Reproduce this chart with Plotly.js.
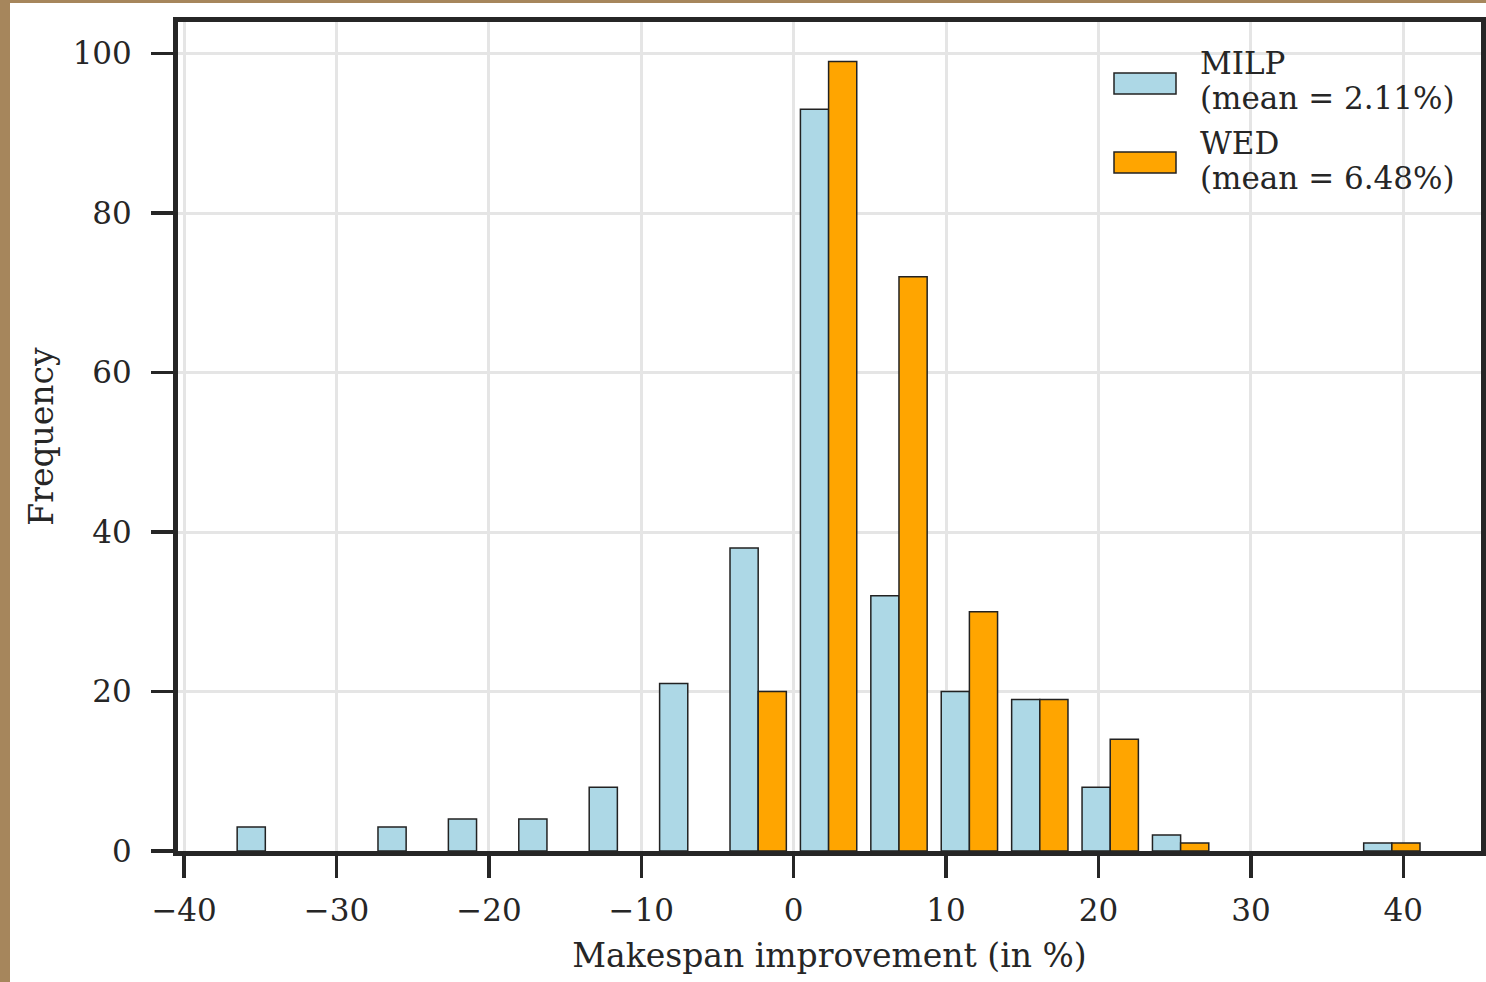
<!DOCTYPE html>
<html>
<head>
<meta charset="utf-8">
<script src="https://cdn.plot.ly/plotly-3.0.1.min.js"></script>
<style>
  html, body { margin: 0; padding: 0; background: #ffffff; }
  #wrap { position: relative; width: 1486px; height: 982px; overflow: hidden; }
  #chart { position: absolute; left: 0; top: 0; width: 1486px; height: 982px; }
  .edge-left { position: absolute; left: 0; top: 0; width: 10px; height: 982px; background: #a6865c; }
  .edge-top { position: absolute; left: 0; top: 0; width: 1486px; height: 3px; background: #a6865c; }
</style>
</head>
<body>
<div id="wrap">
  <div id="chart"></div>
  <div class="edge-left"></div>
  <div class="edge-top"></div>
</div>
<script>
// Histogram bin centers (bin width ~4.62 %)
const binCenters = [-34.67, -30.05, -25.43, -20.81, -16.19, -11.57, -6.95, -2.33, 2.29, 6.91, 11.53, 16.15, 20.77, 25.39, 30.01, 34.63, 39.25];
// Frequencies per bin
const milpCounts = [3, 0, 3, 4, 4, 8, 21, 38, 93, 32, 20, 19, 8, 2, 0, 0, 1];
const wedCounts  = [0, 0, 0, 0, 0, 0, 0, 20, 99, 72, 30, 19, 14, 1, 0, 0, 1];
const seriesNames = ["MILP", "WED"];
const seriesMeans = ["2.11%", "6.48%"];
const xTicks = [-40, -30, -20, -10, 0, 10, 20, 30, 40];
const yTicks = [0, 20, 40, 60, 80, 100];

const FONT = "DejaVu Serif, serif";
const INK = "#262626";
const colors = ["#add8e6", "#ffa500"];
const TICK_SIZE = 31;
const TITLE_SIZE = 33;
const LEG_SIZE = 31;

// empty bins are not drawn (their edges would sit under the bottom spine)
const traces = [milpCounts, wedCounts].map((vals, i) => ({
  type: "bar",
  x: binCenters,
  y: vals.map(v => (v === 0 ? null : v)),
  name: seriesNames[i],
  marker: { color: colors[i], line: { color: "#222222", width: 1.5 } },
  showlegend: false,
  hoverinfo: "x+y+name"
}));

// legend (drawn as shapes + text to match the reference patch size)
const PL = 178, PT = 22, PW = 1303, PH = 829;
const px = v => (v - PL) / PW;
const py = v => (PT + PH - v) / PH;

const legendShapes = [0, 1].map(i => ({
  type: "rect", xref: "paper", yref: "paper",
  x0: px(1114), x1: px(1176),
  y0: py(94 + i * 79), y1: py(73 + i * 79),
  fillcolor: colors[i], line: { color: "#222222", width: 1.5 }
}));
const legendLines = [];
[0, 1].forEach(i => {
  legendLines.push({ text: seriesNames[i], y: 63 + i * 80 });
  legendLines.push({ text: "(mean = " + seriesMeans[i] + ")", y: 98 + i * 80 });
});
const legendAnnots = legendLines.map(l => ({
  xref: "paper", yref: "paper",
  x: px(1198), y: py(l.y),
  xanchor: "left", yanchor: "middle", align: "left",
  showarrow: false,
  text: l.text,
  font: { family: FONT, size: LEG_SIZE, color: INK }
}));

const axisCommon = {
  ticks: "outside",
  ticklen: 22,
  tickwidth: 3.5,
  tickcolor: INK,
  showgrid: true,
  gridcolor: "#e5e5e5",
  gridwidth: 3,
  zeroline: false,
  showline: true,
  mirror: true,
  linecolor: INK,
  linewidth: 5,
  layer: "above traces",
  tickfont: { family: FONT, size: TICK_SIZE, color: INK },
  automargin: false
};

const layout = {
  width: 1486,
  height: 982,
  margin: { l: PL, r: 1486 - PL - PW, t: PT, b: 982 - PT - PH, pad: 0 },
  paper_bgcolor: "#ffffff",
  plot_bgcolor: "#ffffff",
  barmode: "group",
  bargap: 0.2,
  bargroupgap: 0,
  font: { family: FONT, size: TICK_SIZE, color: INK },
  xaxis: Object.assign({}, axisCommon, {
    range: [-40.4, 45.1],
    tickvals: xTicks,
    ticklabelstandoff: 6,
    title: { text: "Makespan improvement (in %)", font: { family: FONT, size: TITLE_SIZE, color: INK }, standoff: 18 }
  }),
  yaxis: Object.assign({}, axisCommon, {
    range: [0, 103.95],
    tickvals: yTicks,
    ticklabelstandoff: 13,
    title: { text: "Frequency", font: { family: FONT, size: TITLE_SIZE, color: INK }, standoff: 11 }
  }),
  shapes: legendShapes,
  annotations: legendAnnots,
  showlegend: false
};

Plotly.newPlot("chart", traces, layout, { displayModeBar: false, staticPlot: true });
</script>
</body>
</html>
